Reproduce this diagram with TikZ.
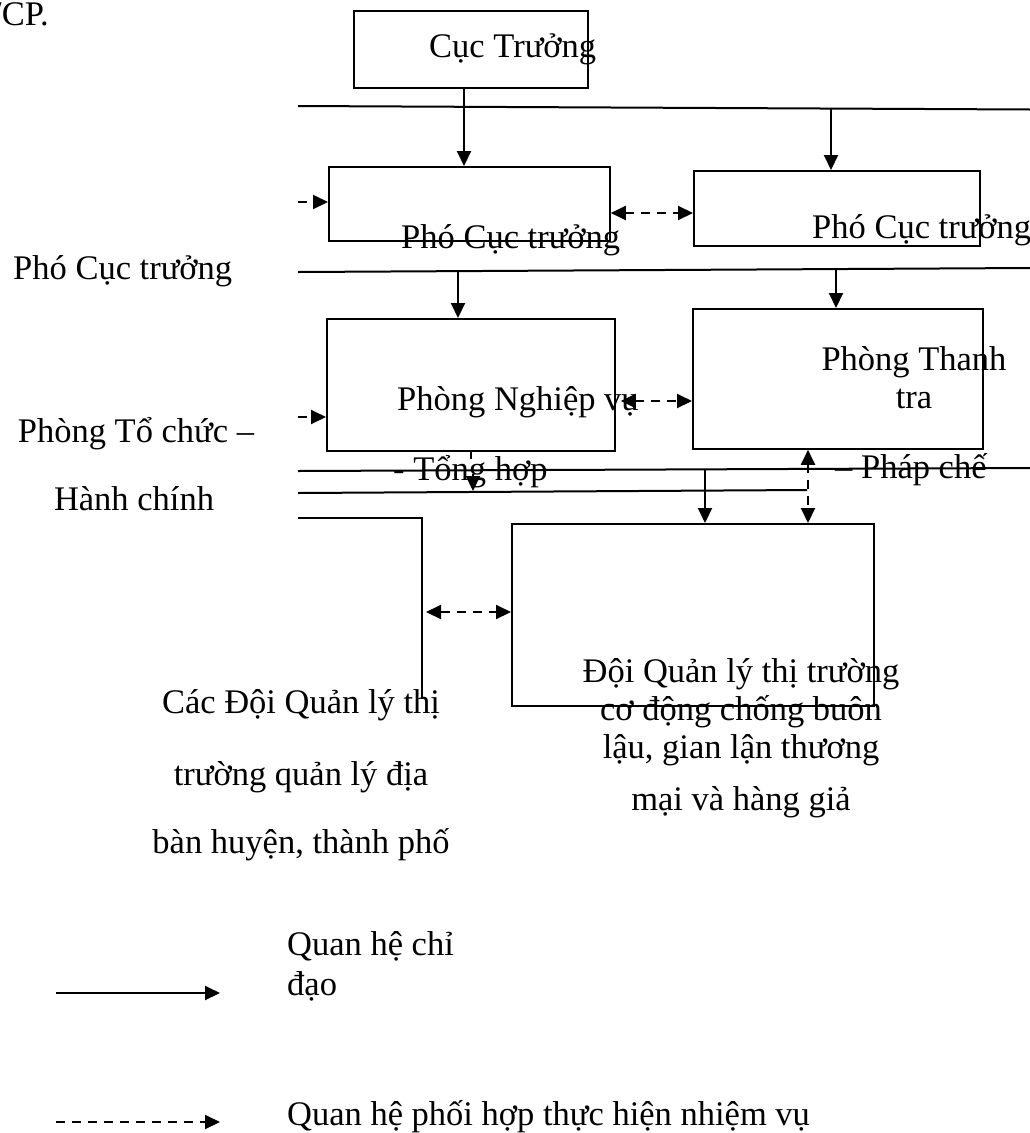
\documentclass[tikz,border=0pt]{standalone}
\usepackage{fontspec}
\setmainfont{Liberation Serif}
\usetikzlibrary{arrows.meta}
\begin{document}
\begin{tikzpicture}[x=1pt,y=-1pt,
  box/.style={draw,line width=1.8pt,inner sep=0pt,anchor=north west},
  lbl/.style={inner sep=0pt,font=\fontsize{34.5}{40}\selectfont},
  hline/.style={line width=2pt},
  arr/.style={line width=2pt,-{Triangle[length=15pt,width=14pt]}},
  darr/.style={line width=2pt,dash pattern=on 9pt off 7pt,{Triangle[length=15pt,width=14pt]}-{Triangle[length=15pt,width=14pt]}},
  dend/.style={line width=2pt,dash pattern=on 9pt off 7pt,-{Triangle[length=15pt,width=14pt]}}]
\clip (0,0) rectangle (1030,1133);
\fill[white] (0,0) rectangle (1030,1133);

% boxes
\node[box,minimum width=234pt,minimum height=77pt] (ct) at (353,10) {};
\node[box,minimum width=281pt,minimum height=74pt] (p1) at (328,166) {};
\node[box,minimum width=286pt,minimum height=75pt] (p2) at (693,170) {};
\node[box,minimum width=288pt,minimum height=132pt] (nv) at (326,318) {};
\node[box,minimum width=290pt,minimum height=140pt] (tt) at (692,308) {};
\node[box,minimum width=362pt,minimum height=182pt] (doi) at (511,523) {};

% long lines
\coordinate (l1a) at (298,106); \coordinate (l1b) at (1030,109.5);
\coordinate (l2a) at (298,272); \coordinate (l2b) at (1030,268);
\coordinate (l3a) at (298,471); \coordinate (l3b) at (1030,468);
\coordinate (l4a) at (298,493); \coordinate (l4b) at (807,490);
\coordinate (l5a) at (298,518); \coordinate (l5b) at (422,518); \coordinate (l5c) at (422,699);
\draw[hline] (l1a) -- (l1b);
\draw[hline] (l2a) -- (l2b);
\draw[hline] (l3a) -- (l3b);
\draw[hline] (l4a) -- (l4b);
\draw[hline] (l5a) -- (l5b) -- (l5c);

% solid arrows
\coordinate (c1) at (464,0);
\draw[arr] (ct.south -| c1) -- (p1.north -| c1);
\coordinate (c2) at (831,108);
\draw[arr] (c2) -- (p2.north -| c2);
\coordinate (c3) at (458,271);
\draw[arr] (c3) -- (nv.north -| c3);
\coordinate (c4) at (836,269);
\draw[arr] (c4) -- (tt.north -| c4);
\coordinate (c9) at (705,469);
\draw[arr] (c9) -- (doi.north -| c9);
\coordinate (c7) at (471,0);
\draw[hline] (nv.south -| c7) -- ++(0,7);
\coordinate (c8a) at (473,474); \coordinate (c8b) at (473,491);
\draw[arr] (c8a) -- (c8b);

% dashed arrows
\coordinate (y1) at (0,213);
\draw[darr] (p1.east |- y1) -- (p2.west |- y1);
\coordinate (y2) at (0,401);
\draw[darr] ([xshift=5pt]nv.east |- y2) -- (tt.west |- y2);
\coordinate (c5) at (298,202);
\draw[dend] (c5) -- (p1.west |- c5);
\coordinate (c6) at (298,417);
\draw[dend] (c6) -- (nv.west |- c6);
\coordinate (c10) at (808,0);
\draw[darr] (tt.south -| c10) -- (doi.north -| c10);
\coordinate (c11) at (426,612);
\draw[darr] (c11) -- (doi.west |- c11);

% texts
\node[lbl,anchor=base east] (tcp) at (49,25) {/CP.};
\node[lbl,anchor=base west] (tct) at (429,57) {Cục Trưởng};
\node[lbl,anchor=base west] (tp1) at (401,248) {Phó Cục trưởng};
\node[lbl,anchor=base west] (tp2) at (812,238) {Phó Cục trưởng};
\node[lbl,anchor=base west] (tp0) at (13,279) {Phó Cục trưởng};
\node[lbl,anchor=base west] (tnv) at (397,410) {Phòng Nghiệp vụ};
\node[lbl,anchor=base west] (tnv2) at (393,480) {- Tổng hợp};
\node[lbl,anchor=base] (ttt1) at (914,370) {Phòng Thanh};
\node[lbl,anchor=base] (ttt2) at (914,408) {tra};
\node[lbl,anchor=base west] (ttt3) at (835,478) {– Pháp chế};
\node[lbl,anchor=base] (ttc1) at (136,442) {Phòng Tổ chức –};
\node[lbl,anchor=base] (ttc2) at (134,510) {Hành chính};
\node[lbl,anchor=base] (tdh1) at (301,713) {Các Đội Quản lý thị};
\node[lbl,anchor=base] (tdh2) at (301,785) {trường quản lý địa};
\node[lbl,anchor=base] (tdh3) at (301,853) {bàn huyện, thành phố};
\node[lbl,anchor=base] (tdo1) at (741,682) {Đội Quản lý thị trường};
\node[lbl,anchor=base] (tdo2) at (741,720) {cơ động chống buôn};
\node[lbl,anchor=base] (tdo3) at (741,758) {lậu, gian lận thương};
\node[lbl,anchor=base] (tdo4) at (741,810) {mại và hàng giả};

% legend
\coordinate (g1a) at (56,993); \coordinate (g1b) at (220,993);
\draw[arr] (g1a) -- (g1b);
\node[lbl,anchor=base west] (tg1) at (287,955) {Quan hệ chỉ};
\node[lbl,anchor=base west] (tg2) at (287,995) {đạo};
\coordinate (g2a) at (56,1122); \coordinate (g2b) at (220,1122);
\draw[dend] (g2a) -- (g2b);
\node[lbl,anchor=base west] (tg3) at (287,1125) {Quan hệ phối hợp thực hiện nhiệm vụ};
\end{tikzpicture}
\end{document}
